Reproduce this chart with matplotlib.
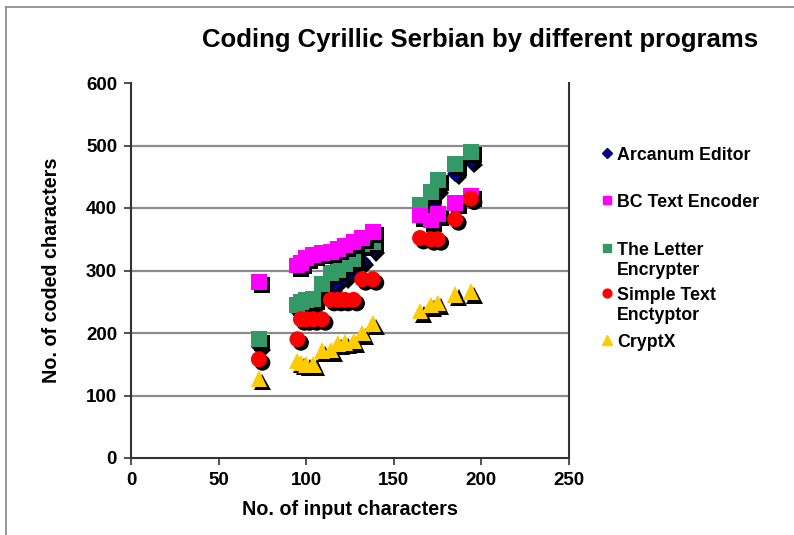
import matplotlib
matplotlib.use("Agg")
import matplotlib.pyplot as plt
import matplotlib.patheffects as pe
from matplotlib.lines import Line2D

plt.rcParams['font.family'] = ['Liberation Sans', 'DejaVu Sans']
plt.rcParams['font.weight'] = 'bold'

# shared input sizes
x_input = [73, 95, 97, 100, 104, 109, 114, 118, 122, 127, 132, 138, 165, 171, 175, 185, 194]

arcanum = [178, 235, 238, 240, 245, 262, 272, 285, 290, 300, 315, 333, 398, 410, 430, 455, 475]
bc_text = [282, 308, 312, 320, 325, 328, 330, 335, 340, 345, 352, 362, 388, 380, 390, 408, 420]
letter = [190, 245, 250, 253, 255, 278, 296, 300, 310, 318, 342, 345, 405, 425, 445, 470, 490]
simple = [158, 190, 222, 222, 222, 222, 253, 253, 253, 253, 286, 286, 352, 350, 350, 382, 415]
cryptx = [127, 155, 152, 150, 150, 172, 173, 183, 185, 187, 200, 215, 235, 245, 248, 262, 266]

series_names = ["Arcanum Editor", "BC Text Encoder", "The Letter\nEncrypter",
                "Simple Text\nEnctyptor", "CryptX"]
series_values = [arcanum, bc_text, letter, simple, cryptx]
colors = ["#000080", "#FF00FF", "#339966", "#FF0000", "#FFCC00"]
markers = ["D", "s", "s", "o", "^"]
msizes = [8.5, 11.5, 11.5, 11.5, 12]
zorders = [3, 5, 4, 6, 7]

x_ticks = [0, 50, 100, 150, 200, 250]
y_ticks = [0, 100, 200, 300, 400, 500, 600]

W, H = 794, 535
fig = plt.figure(figsize=(W / 100, H / 100), dpi=100)
ax = fig.add_axes([131 / W, 1 - 458 / H, (569 - 131) / W, (458 - 83) / H])

shadow = [pe.SimplePatchShadow(offset=(2.5, -2.5), shadow_rgbFace='black', alpha=1.0), pe.Normal()]

for name, vals, c, m, ms, z in zip(series_names, series_values, colors, markers, msizes, zorders):
    ax.plot(x_input, vals, linestyle='none', marker=m, markersize=ms,
            markerfacecolor=c, markeredgecolor=c, markeredgewidth=0,
            zorder=z, path_effects=shadow)

ax.set_xlim(0, 250)
ax.set_ylim(0, 600)
ax.set_xticks(x_ticks)
ax.set_yticks(y_ticks)
ax.tick_params(labelsize=13.5, width=1.2, length=5, color='#333333', pad=5)
for lab in ax.get_xticklabels() + ax.get_yticklabels():
    lab.set_fontweight('bold')

for yv in [100, 200, 300, 400, 500]:
    ax.axhline(yv, color='#8c8c8c', lw=1.6, zorder=1)

ax.spines['top'].set_visible(False)
for s in ['left', 'bottom', 'right']:
    ax.spines[s].set_color('#333333')
    ax.spines[s].set_linewidth(1.5)

ax.set_xlabel("No. of input characters", fontsize=14.2, fontweight='bold', labelpad=8)
ax.set_ylabel("No. of coded characters", fontsize=14.2, fontweight='bold', labelpad=18)

fig.text(480 / W, 1 - 40 / H, "Coding Cyrillic Serbian by different programs",
         fontsize=18.5, fontweight='bold', ha='center', va='center')

# legend drawn manually to match spacing
leg_y = [153, 200, 248, 293, 340]
for name, c, m, ms, yv in zip(series_names, colors, markers, msizes, leg_y):
    fig.add_artist(Line2D([607 / W], [1 - yv / H], linestyle='none', marker=m,
                          markersize=ms * 0.55, markerfacecolor=c, markeredgecolor=c))
    fig.text(617 / W, 1 - (yv - 6) / H, name, fontsize=12.8, fontweight='bold',
             ha='left', va='top', linespacing=1.25)

# figure border (left and top)
fig.add_artist(Line2D([6 / W, 6 / W], [0, 1 - 7 / H], color='#888888', lw=1.2))
fig.add_artist(Line2D([6 / W, 1], [1 - 7 / H, 1 - 7 / H], color='#888888', lw=1.2))

fig.savefig("out.png", dpi=100)
